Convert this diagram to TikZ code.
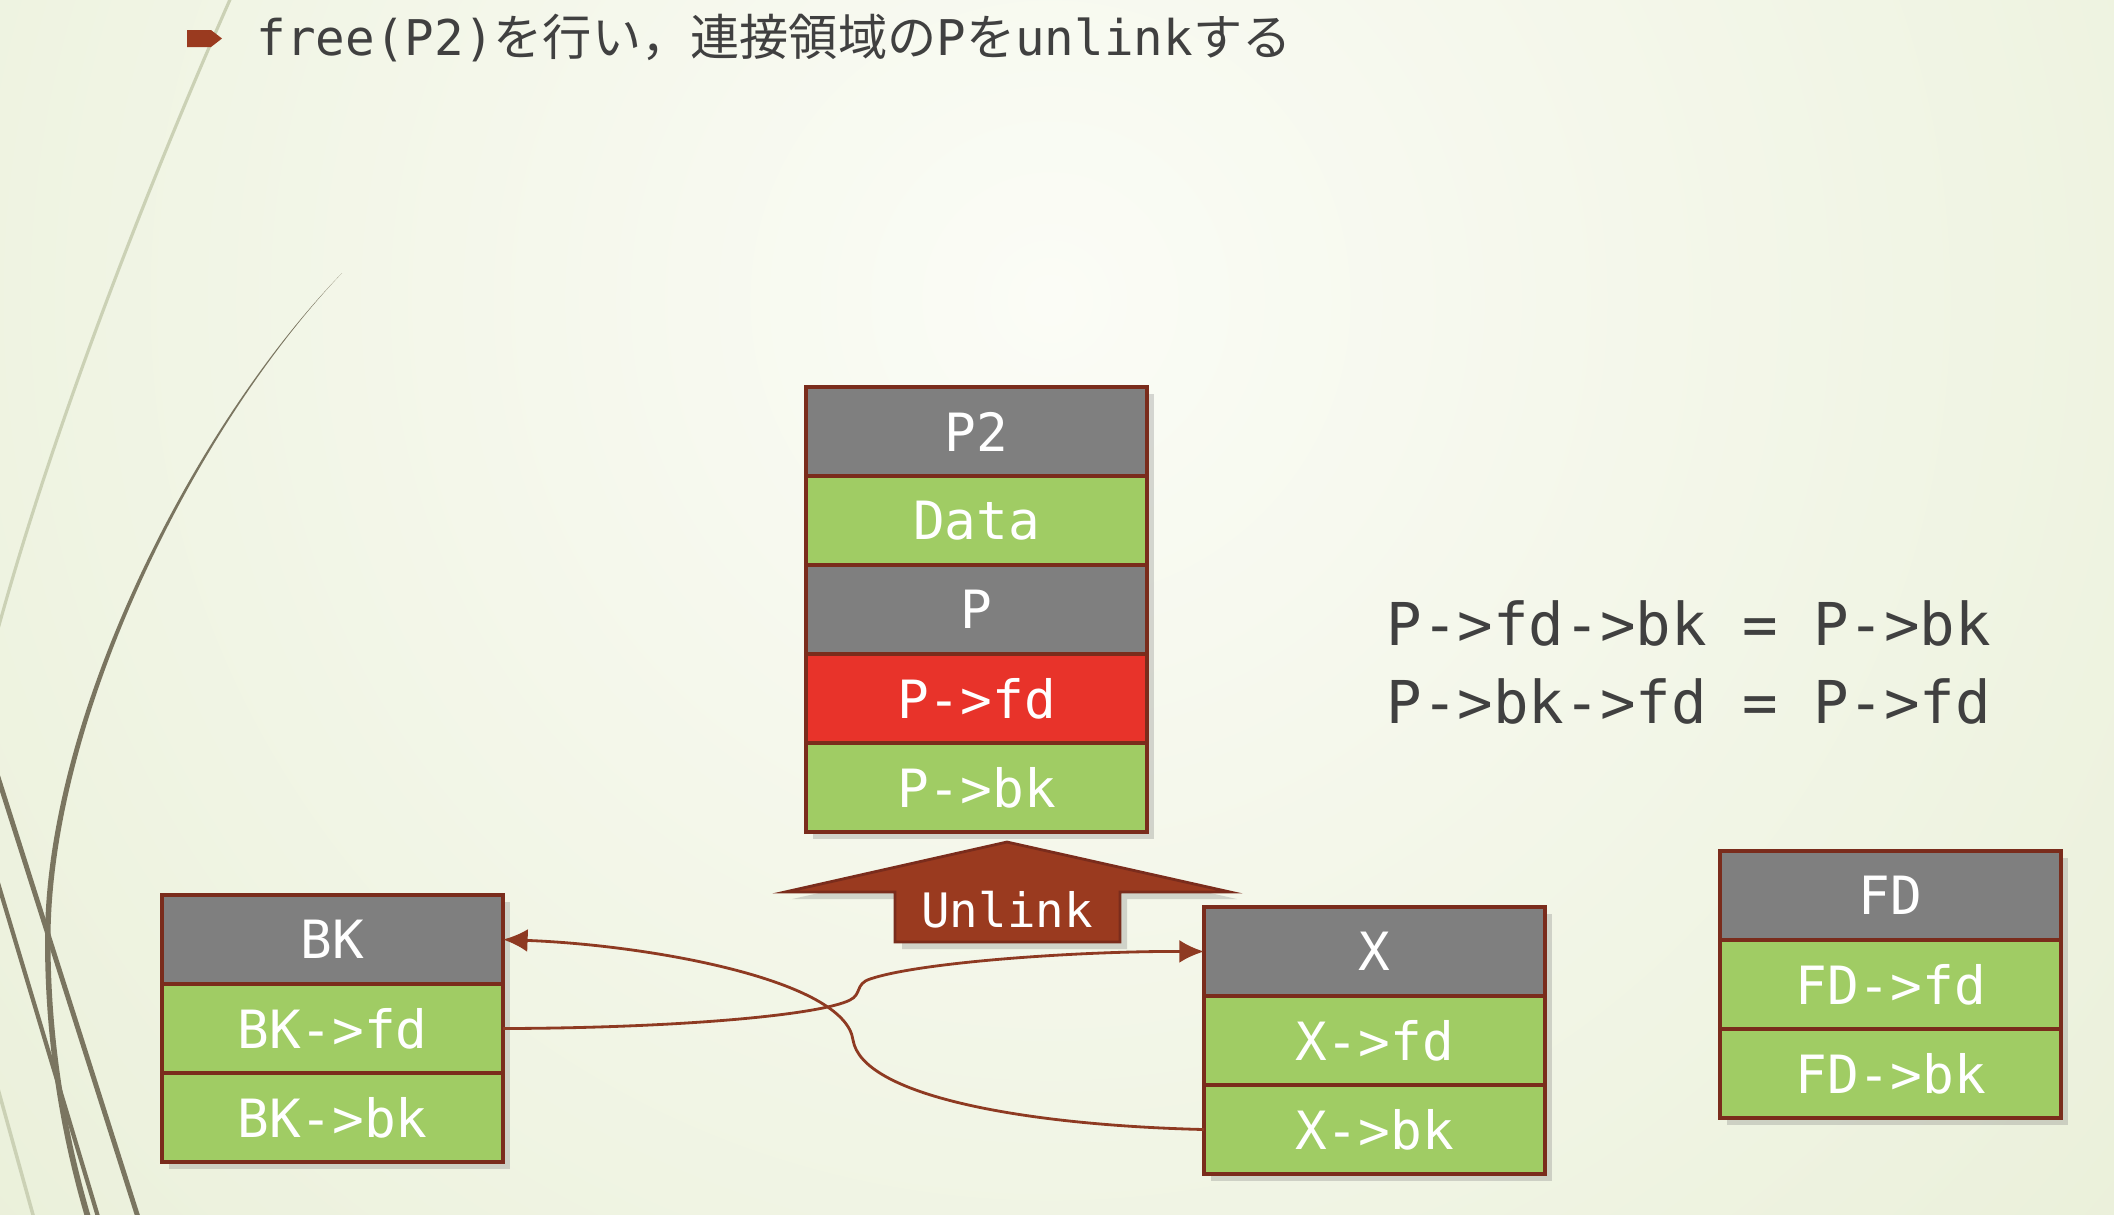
\documentclass[tikz,border=0pt]{standalone}
\usepackage{fontspec}
\setmonofont{DejaVu Sans Mono}
\newfontfamily\cjk{Noto Sans CJK JP}
\usetikzlibrary{positioning,shadows,arrows.meta}

\definecolor{cellgray}{HTML}{7F7F7F}
\definecolor{cellgreen}{HTML}{A0CC64}
\definecolor{cellred}{HTML}{E8332A}
\definecolor{cellborder}{HTML}{7A2C1C}
\definecolor{linkred}{HTML}{8E3A22}
\definecolor{unlinkfill}{HTML}{9A3A1F}
\definecolor{textgray}{HTML}{404040}
\definecolor{bgedge}{HTML}{DFE8C7}
\definecolor{bgcenter}{HTML}{FBFCF6}
\definecolor{decodark}{HTML}{7A7560}
\definecolor{decolight}{HTML}{CBD1B5}

\begin{document}
\begin{tikzpicture}[node distance=0pt,>={Latex[length=7pt,width=6.5pt]},
    cell/.style={draw=cellborder,line width=1.2pt,outer sep=0pt,minimum width=3.41cm,
      minimum height=0.89cm,text=white,font=\ttfamily\fontsize{15}{15}\selectfont,
      drop shadow={opacity=0.3,shadow xshift=2pt,shadow yshift=-2pt}},
    head/.style={cell,fill=cellgray},
    field/.style={cell,fill=cellgreen},
    link/.style={->,draw=linkred,line width=0.8pt}]
  \useasboundingbox (0,0) rectangle (21.14,-12.14);
  % background and swooshes
  \begin{scope}
    \clip (0,0) rectangle (21.14,-12.14);
    \fill[bgedge] (0,0) rectangle (21.14,-12.14);
    \shade[inner color=bgcenter,outer color=bgedge] (10.5,-3.0) circle (24);
    \draw[decolight,line width=0.9pt] (2.32,0.05) .. controls (1.70,-1.35) and (0.60,-4.00) .. (-0.05,-6.40);
    \fill[decodark] (3.42,-2.73) .. controls (1.90,-4.30) and (0.45,-7.20) .. (0.45,-9.40)
      .. controls (0.45,-10.40) and (0.60,-11.40) .. (0.92,-12.40) -- (0.98,-12.40)
      .. controls (0.66,-11.40) and (0.505,-10.40) .. (0.505,-9.40)
      .. controls (0.505,-7.20) and (1.93,-4.30) .. (3.42,-2.73) -- cycle;
    \draw[decodark,line width=1.4pt] (-0.10,-7.52) -- (1.50,-12.55);
    \draw[decodark,line width=1.2pt] (-0.05,-8.73) -- (1.05,-12.40);
    \draw[decolight,line width=1pt] (-0.05,-10.78) -- (0.40,-12.40);
  \end{scope}

  % title
  \fill[unlinkfill] (1.87,-0.30) -- (2.11,-0.30) -- (2.22,-0.385) -- (2.11,-0.47) -- (1.87,-0.47) -- cycle;
  \node[anchor=west,inner sep=0pt,text=textgray,font=\ttfamily\fontsize{14}{16}\selectfont] (title) at (2.56,-0.38)
    {free(P2){\cjk を行い，連接領域の}P{\cjk を}unlink{\cjk する}};

  % chunk P2
  \node[head] (P2) at (9.765,-4.316) {P2};
  \node[field,below=of P2] (Data) {Data};
  \node[head,below=of Data] (P) {P};
  \node[field,fill=cellred,below=of P] (Pfd) {P->fd};
  \node[field,below=of Pfd] (Pbk) {P->bk};

  % chunk BK
  \node[head] (BK) at (3.325,-9.395) {BK};
  \node[field,below=of BK] (BKfd) {BK->fd};
  \node[field,below=of BKfd] (BKbk) {BK->bk};

  % chunk X
  \node[head] (X) at (13.745,-9.515) {X};
  \node[field,below=of X] (Xfd) {X->fd};
  \node[field,below=of Xfd] (Xbk) {X->bk};

  % chunk FD
  \node[head] (FD) at (18.905,-8.955) {FD};
  \node[field,below=of FD] (FDfd) {FD->fd};
  \node[field,below=of FDfd] (FDbk) {FD->bk};

  % unlink
  \draw[draw=cellborder,fill=unlinkfill,line width=0.8pt,
    drop shadow={opacity=0.3,shadow xshift=2pt,shadow yshift=-2pt}]
    (10.07,-8.42) -- (12.30,-8.92) -- (11.20,-8.92) -- (11.20,-9.42)
    -- (8.95,-9.42) -- (8.95,-8.92) -- (7.85,-8.92) -- cycle;
  \node[text=white,font=\ttfamily\fontsize{13.5}{13.5}\selectfont] (unlink) at (10.07,-9.10) {Unlink};

  \node[anchor=west,inner sep=0pt,text=textgray,font=\ttfamily\fontsize{16.8}{20}\selectfont] (rule1) at (13.86,-6.23) {P->fd->bk = P->bk};
  \node[anchor=west,inner sep=0pt,text=textgray,font=\ttfamily\fontsize{16.8}{20}\selectfont] (rule2) at (13.86,-7.01) {P->bk->fd = P->fd};

  \draw[link] (BKfd.east) .. controls (6.8,-10.28) and (8.2,-10.15) .. (8.50,-10.00)
    .. controls (8.62,-9.94) and (8.55,-9.84) .. (8.70,-9.79)
    .. controls (9.2,-9.62) and (10.8,-9.51) .. (X.west);
  \draw[link] (Xbk.west) .. controls (10.2,-11.25) and (8.62,-10.95) .. (8.53,-10.40)
    .. controls (8.45,-9.8) and (6.5,-9.45) .. (BK.east);
\end{tikzpicture}
\end{document}
